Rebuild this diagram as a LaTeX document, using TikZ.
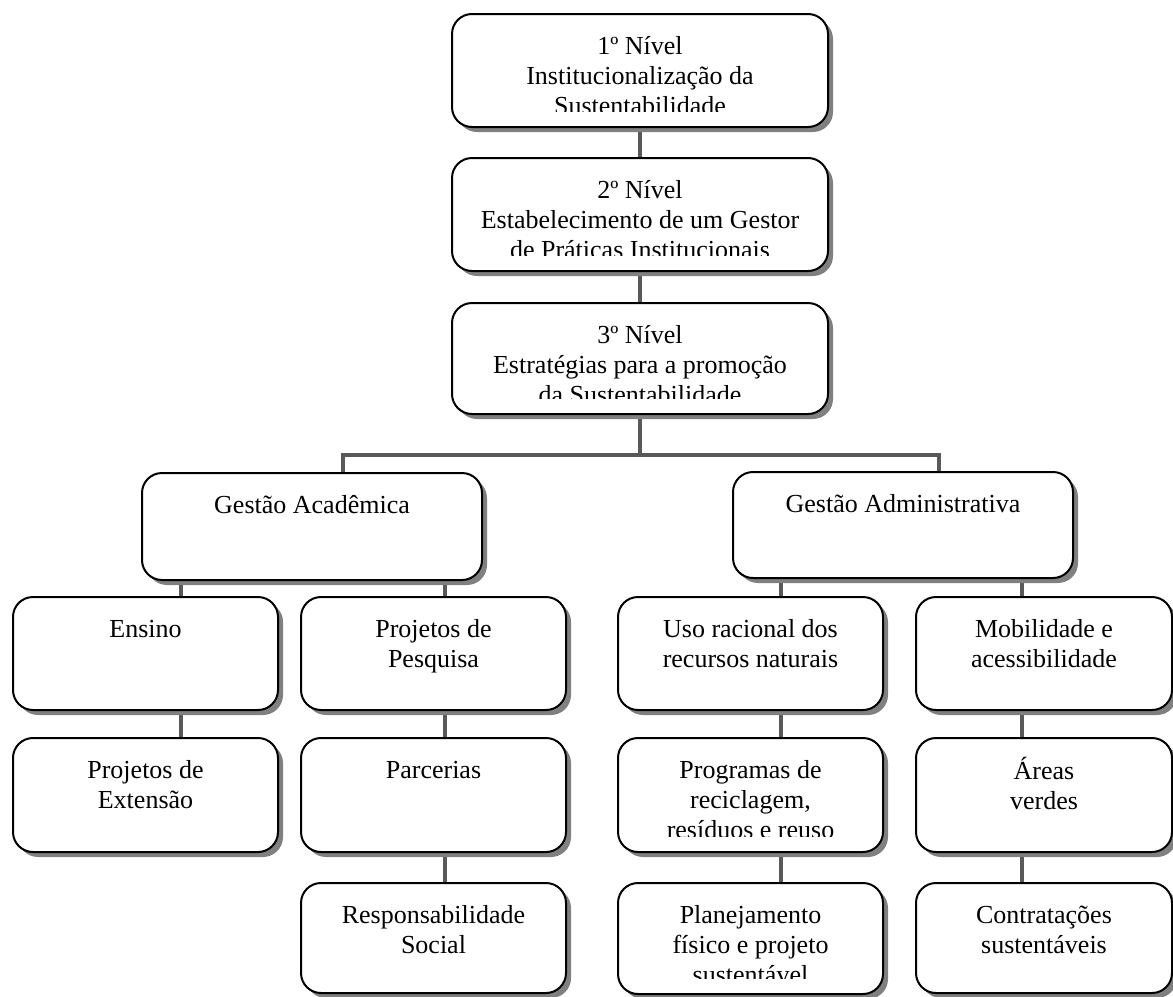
\documentclass[tikz,border=0pt]{standalone}
\usepackage{fontspec}
\setmainfont{Liberation Serif}
\usetikzlibrary{shadows,fit,calc,backgrounds}

\tikzset{
  orgbox/.style={draw, line width=1.5pt, rounded corners=15pt, fill=white, inner sep=0pt,
    drop shadow={shadow xshift=3.75pt, shadow yshift=-3.75pt, fill=black!50, opacity=1}},
  orgtext/.style={align=center, inner sep=0pt, anchor=north, font=\fontsize{19.5}{22.5}\selectfont},
  link/.style={draw=black!65, line width=3pt}
}

% box: name, left, top, right, bottom, text
\newcommand{\levelbox}[6]{%
  \node[orgbox, fit={(#2,#3) (#4,#5)}] (#1) {};
  \begin{scope}
    \clip (#2,#3) rectangle (#4,#5-16);
    \node[orgtext] at ($(#1.north)+(0,20)$) {\strut #6};
  \end{scope}}

\begin{document}
\begin{tikzpicture}[x=0.75pt, y=-0.75pt]
\useasboundingbox (0,0) rectangle (1173,996);

\levelbox{l1}{452}{14}{828}{127}{1º Nível\\Institucionalização da\\Sustentabilidade}
\levelbox{l2}{452}{158}{828}{271}{2º Nível\\Estabelecimento de um Gestor\\de Práticas Institucionais}
\levelbox{l3}{452}{303}{828}{414}{3º Nível\\Estratégias para a promoção\\da Sustentabilidade}

\levelbox{acad}{142}{473}{482}{580}{Gestão Acadêmica}
\levelbox{adm}{733}{472}{1073}{578}{Gestão Administrativa}

% academica
\levelbox{ensino}{13}{597}{278}{710}{Ensino}
\levelbox{extensao}{13}{738}{278}{852}{Projetos de\\Extensão}
\levelbox{pesquisa}{301}{597}{566}{710}{Projetos de\\Pesquisa}
\levelbox{parcerias}{301}{738}{566}{852}{Parcerias}
\levelbox{social}{301}{883}{566}{993}{Responsabilidade\\Social}

% administrativa
\levelbox{uso}{618}{597}{883}{710}{Uso racional dos\\recursos naturais}
\levelbox{recicla}{618}{738}{883}{852}{Programas de\\reciclagem,\\resíduos e reuso}
\levelbox{planej}{618}{883}{883}{994}{Planejamento\\físico e projeto\\sustentável}
\levelbox{mobil}{916}{597}{1172}{710}{Mobilidade e\\acessibilidade}
\levelbox{verdes}{916}{738}{1172}{852}{Áreas\\verdes}
\levelbox{contrat}{916}{883}{1172}{993}{Contratações\\sustentáveis}

\coordinate (c1) at (181,0);
\coordinate (c2) at (445,0);
\coordinate (c3) at (781,0);
\coordinate (c4) at (1022,0);
\coordinate (cl) at (343,0);
\coordinate (cr) at (939,0);
\coordinate (bar) at ($(l3.south)+(0,40)$);

\begin{scope}[on background layer]
\draw[link] (l1.south) -- (l2.north);
\draw[link] (l2.south) -- (l3.north);
\draw[link] (l3.south) -- (bar);
\draw[link] (acad.north -| cl) |- (bar) -| (adm.north -| cr);
\draw[link] (acad.south -| c1) -- (ensino.north -| c1);
\draw[link] (acad.south -| c2) -- (pesquisa.north -| c2);
\draw[link] (adm.south -| c3) -- (uso.north -| c3);
\draw[link] (adm.south -| c4) -- (mobil.north -| c4);
\draw[link] (ensino.south -| c1) -- (extensao.north -| c1);
\draw[link] (pesquisa.south -| c2) -- (parcerias.north -| c2);
\draw[link] (parcerias.south -| c2) -- (social.north -| c2);
\draw[link] (uso.south -| c3) -- (recicla.north -| c3);
\draw[link] (recicla.south -| c3) -- (planej.north -| c3);
\draw[link] (mobil.south -| c4) -- (verdes.north -| c4);
\draw[link] (verdes.south -| c4) -- (contrat.north -| c4);
\end{scope}
\end{tikzpicture}
\end{document}
